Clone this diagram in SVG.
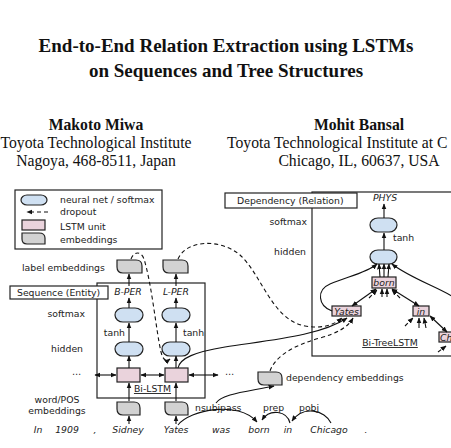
<svg xmlns="http://www.w3.org/2000/svg" width="451" height="448" viewBox="0 0 451 448">
<style>
.t{font-family:"Liberation Serif","Times New Roman",serif;fill:#111}
.tb{font-weight:bold}
.s{font-family:"DejaVu Sans",Verdana,sans-serif;font-size:9.3px;fill:#222}
.i{font-style:italic}
.m{text-anchor:middle}
.e{text-anchor:end}
.nn{fill:#cfe0f2;stroke:#222;stroke-width:1.2}
.ls{fill:#ead3dc;stroke:#222;stroke-width:1.2}
.em{fill:#d2d2d2;stroke:#222;stroke-width:1.2}
.box{fill:none;stroke:#222;stroke-width:1.2}
.lbl{fill:#fff;stroke:#222;stroke-width:1.2}
.a{fill:none;stroke:#111;stroke-width:1.1;marker-end:url(#ah)}
.d{fill:none;stroke:#111;stroke-width:1.1;stroke-dasharray:4 3;marker-end:url(#ah)}
.b{marker-start:url(#ah)}
</style>
<defs>
<marker id="ah" viewBox="0 0 10 10" refX="9" refY="5" markerWidth="6" markerHeight="6" markerUnits="userSpaceOnUse" orient="auto-start-reverse">
<path d="M0,1 L10,5 L0,9 z" fill="#111"/>
</marker>
</defs>
<rect width="451" height="448" fill="#fff"/>

<g id="title">
<text class="t tb m" x="226" y="52" font-size="19">End-to-End Relation Extraction using LSTMs</text>
<text class="t tb m" x="226" y="77" font-size="19">on Sequences and Tree Structures</text>
</g>
<g id="authors">
<text class="t tb m" x="96" y="130" font-size="15.7">Makoto Miwa</text>
<text class="t m" x="96" y="148" font-size="15.7">Toyota Technological Institute</text>
<text class="t m" x="96" y="166" font-size="15.7">Nagoya, 468-8511, Japan</text>
<text class="t tb m" x="359" y="130" font-size="15.7">Mohit Bansal</text>
<text class="t" x="227" y="148" font-size="15.7">Toyota Technological Institute at C</text>
<text class="t m" x="359" y="166" font-size="15.7">Chicago, IL, 60637, USA</text>
</g>

<g id="legend">
<rect class="box" x="15" y="190" width="147" height="59"/>
<rect class="nn" x="21" y="195" width="26" height="10" rx="6" ry="5"/>
<text class="s" x="60" y="203">neural net / softmax</text>
<path class="d" d="M48,212 H27"/>
<text class="s" x="60" y="215">dropout</text>
<rect class="ls" x="22" y="220" width="23" height="10"/>
<text class="s" x="60" y="230">LSTM unit</text>
<path class="em" d="M22,233 H39 Q45,233 45,238 V244 H27 Q22,244 22,239 Z"/>
<text class="s" x="60" y="243">embeddings</text>
</g>

<g id="sequence-box">
<rect class="box" x="97" y="283" width="108" height="115"/>
<rect class="lbl" x="10" y="286" width="98" height="13"/>
<text class="s" x="17" y="296">Sequence (Entity)</text>
<text class="s m" x="152.5" y="392" text-decoration="underline">Bi-LSTM</text>
</g>

<g id="seq-labels">
<text class="s" x="22" y="271">label embeddings</text>
<text class="s e" x="85" y="317">softmax</text>
<text class="s e" x="83" y="352">hidden</text>
<text class="s m" x="57" y="403">word/POS</text>
<text class="s m" x="57" y="414">embeddings</text>
<text class="s e" x="125" y="336">tanh</text>
<text class="s" x="183" y="336">tanh</text>
<text class="s" x="72" y="377">⋯</text>
<text class="s" x="225" y="377">⋯</text>
</g>

<g id="col-b">
<path class="em" d="M117,260 H136 Q142,260 142,266 V273 H123 Q117,273 117,267 Z"/>
<text class="s i m" x="128" y="295">B-PER</text>
<rect class="nn" x="115" y="308" width="28" height="14" rx="8" ry="7"/>
<rect class="nn" x="115" y="342" width="28" height="14" rx="8" ry="7"/>
<rect class="ls" x="117" y="368" width="23" height="14"/>
<path class="em" d="M117,402 H134 Q140,402 140,408 V415 H123 Q117,415 117,409 Z"/>
</g>
<g id="col-l">
<path class="em" d="M163,260 H182 Q188,260 188,266 V273 H169 Q163,273 163,267 Z"/>
<text class="s i m" x="176" y="295">L-PER</text>
<rect class="nn" x="162" y="308" width="28" height="14" rx="8" ry="7"/>
<rect class="nn" x="162" y="342" width="28" height="14" rx="8" ry="7"/>
<rect class="ls" x="165" y="368" width="23" height="14"/>
<path class="em" d="M165,402 H182 Q188,402 188,408 V415 H171 Q165,415 165,409 Z"/>
</g>

<g id="tree-box">
<rect class="box" x="312" y="192" width="150" height="164"/>
<rect class="lbl" x="225" y="193" width="132" height="15"/>
<text class="s" x="237" y="204">Dependency (Relation)</text>
<text class="s e" x="307" y="225">softmax</text>
<text class="s e" x="306" y="255">hidden</text>
<text class="s" x="393" y="241">tanh</text>
<text class="s i m" x="385" y="201">PHYS</text>
<text class="s m" x="390" y="346" text-decoration="underline">Bi-TreeLSTM</text>
</g>
<g id="tree-nodes">
<rect class="nn" x="370" y="218" width="27" height="14" rx="8" ry="7"/>
<rect class="nn" x="370" y="250" width="27" height="14" rx="8" ry="7"/>
<g id="node-born"><rect class="ls" x="372" y="277" width="24" height="11"/><text class="s i m" x="384" y="286" font-size="9">born</text></g>
<g id="node-yates"><rect class="ls" x="332" y="306" width="29" height="10"/><text class="s i m" x="346.5" y="314.5" font-size="9">Yates</text></g>
<g id="node-in"><rect class="ls" x="413" y="306" width="16" height="10"/><text class="s i m" x="421" y="314.5" font-size="9">in</text></g>
<g id="node-chicago"><rect class="ls" x="439" y="332" width="30" height="10"/><text class="s i" x="440" y="340.5" font-size="8.4">Ch</text></g>
</g>

<g id="dep-emb">
<path class="em" d="M258,372 H276 Q282,372 282,378 V385 H264 Q258,385 258,379 Z"/>
<text class="s" x="286" y="381">dependency embeddings</text>
</g>

<g id="sentence">
<text class="s i m" x="38" y="433">In</text>
<text class="s i m" x="67" y="433">1909</text>
<text class="s i m" x="95" y="433">,</text>
<text class="s i m" x="128" y="433">Sidney</text>
<text class="s i m" x="176" y="433">Yates</text>
<text class="s i m" x="221" y="433">was</text>
<text class="s i m" x="259" y="433">born</text>
<text class="s i m" x="288" y="433">in</text>
<text class="s i m" x="329" y="433">Chicago</text>
<text class="s i m" x="366" y="433">.</text>
<text class="s" x="195" y="411">nsubjpass</text>
<text class="s" x="263" y="411">prep</text>
<text class="s" x="299" y="411">pobj</text>
</g>

<g id="connectors">
<path class="a" d="M129,424 V416"/>
<path class="a" d="M129,401 V383"/>
<path class="a" d="M129,368 V356"/>
<path class="a" d="M129,342 V323"/>
<path class="a" d="M129,308 V298"/>
<path class="a" d="M129,286 V274"/>
<path class="a" d="M176,424 V416"/>
<path class="a" d="M176,401 V383"/>
<path class="a" d="M176,368 V356"/>
<path class="a" d="M176,342 V323"/>
<path class="a" d="M176,308 V298"/>
<path class="a" d="M176,286 V274"/>
<path class="a b" d="M95,375 H116"/>
<path class="a b" d="M141,375 H164"/>
<path class="a b" d="M189,375 H218"/>

<path class="a" d="M384,218 V204"/>
<path class="a" d="M384,250 V233"/>
<path class="a" d="M380,277 L379,264"/>
<path class="a" d="M384,277 V264"/>
<path class="a" d="M388,277 L389,264"/>
<path class="a" d="M332,311 C318,306 316,290 330,284 C350,276 368,272 377,264"/>
<path class="a" d="M455,298 C440,288 410,278 392,264"/>
<path class="a b" d="M352,306 L376,289"/>
<path class="a b" d="M392,289 L419,306"/>
<path class="a b" d="M430,316 L447,332"/>
<path class="a" d="M382,297 V289"/>
<path class="a" d="M387,297 V289"/>
<path class="d" stroke-dasharray="2 2" d="M369,298 L377,290"/>
<path class="d" stroke-dasharray="2 2" d="M400,298 L392,290"/>
<path class="d" stroke-dasharray="2 2" d="M405,326 L413,318"/>
<path class="a" d="M419,328 V318"/>
<path class="a" d="M426,328 L424,318"/>
<path class="d" stroke-dasharray="3 2" d="M438,352 L446,346"/>

<path class="d" d="M131,259 C134,251 141,251 144,259 C152,285 156,330 161,352 C163,360 166,362 170,359"/>
<path class="d" d="M178,259 C186,240 220,238 240,255 C262,275 272,320 305,326 C322,329 334,325 342,318"/>
<path class="a" d="M178,368 C180,358 195,352 225,347 C270,340 320,336 347,318"/>
<path class="d" d="M270,371 C276,355 295,345 320,338 C338,333 348,327 353,318"/>
<path class="a" d="M216,403 C222,394 245,392 274,386"/>
<path class="a" d="M178,425 C190,410 238,400 257,422"/>
<path class="a" d="M290,423 C287,411 270,408 262,420"/>
<path class="a" d="M331,423 C325,410 303,405 292,421"/>
</g>
</svg>
